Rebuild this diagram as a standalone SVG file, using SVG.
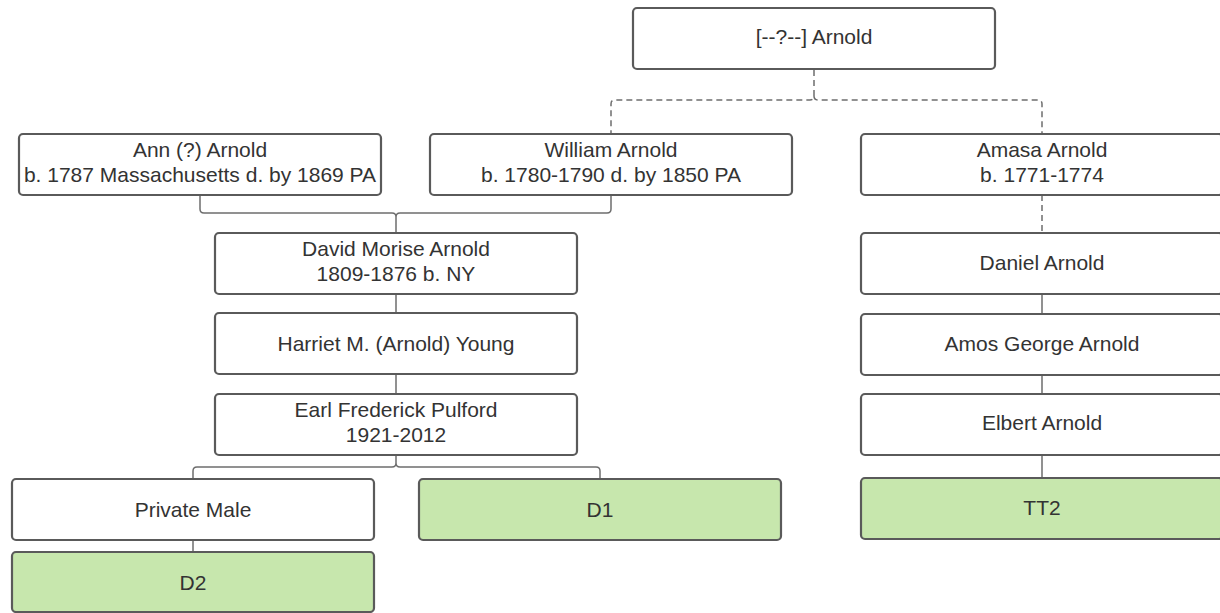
<svg xmlns="http://www.w3.org/2000/svg" width="1220" height="613" viewBox="0 0 1220 613">
<style>
.box{fill:#ffffff;stroke:#5a5a5a;stroke-width:2.2}
.green{fill:#c7e7ad}
.t{font-family:"Liberation Sans",Arial,sans-serif;font-size:21px;fill:#333333;text-anchor:middle}
.c{fill:none;stroke:#6e6e6e;stroke-width:1.5}
.d{stroke-dasharray:6,4}
</style>
<rect width="1220" height="613" fill="#ffffff"/>
<g id="connectors">
<path class="c d" d="M814,70 V96 Q814,100 810,100 H615 Q611,100 611,104 V134 M814,96 Q814,100 818,100 H1038 Q1042,100 1042,104 V134"/>
<path class="c d" d="M1042,195 V233"/>
<path class="c" d="M200,195 V209 Q200,213 204,213 H392 Q396,213 396,217 V233 M611,195 V209 Q611,213 607,213 H400 Q396,213 396,217"/>
<path class="c" d="M396,294 V313 M396,374 V394"/>
<path class="c" d="M396,455 V463 Q396,467 392,467 H197 Q193,467 193,471 V479 M396,463 Q396,467 400,467 H596 Q600,467 600,471 V479"/>
<path class="c" d="M193,540 V552"/>
<path class="c" d="M1042,294 V314 M1042,375 V394 M1042,455 V478"/>
</g>
<g id="n-top"><rect class="box" x="633" y="8" width="362" height="61" rx="4"/><text class="t" x="814" y="44">[--?--] Arnold</text></g>
<g id="n-ann"><rect class="box" x="19" y="134" width="362" height="61" rx="4"/><text class="t" x="200" y="157">Ann (?) Arnold</text><text class="t" x="200" y="182">b. 1787 Massachusetts d. by 1869 PA</text></g>
<g id="n-william"><rect class="box" x="430" y="134" width="362" height="61" rx="4"/><text class="t" x="611" y="157">William Arnold</text><text class="t" x="611" y="182">b. 1780-1790 d. by 1850 PA</text></g>
<g id="n-amasa"><rect class="box" x="861" y="134" width="362" height="61" rx="4"/><text class="t" x="1042" y="157">Amasa Arnold</text><text class="t" x="1042" y="182">b. 1771-1774</text></g>
<g id="n-david"><rect class="box" x="215" y="233" width="362" height="61" rx="4"/><text class="t" x="396" y="256">David Morise Arnold</text><text class="t" x="396" y="281">1809-1876 b. NY</text></g>
<g id="n-harriet"><rect class="box" x="215" y="313" width="362" height="61" rx="4"/><text class="t" x="396" y="351">Harriet M. (Arnold) Young</text></g>
<g id="n-earl"><rect class="box" x="215" y="394" width="362" height="61" rx="4"/><text class="t" x="396" y="417">Earl Frederick Pulford</text><text class="t" x="396" y="442">1921-2012</text></g>
<g id="n-private"><rect class="box" x="12" y="479" width="362" height="61" rx="4"/><text class="t" x="193" y="517">Private Male</text></g>
<g id="n-d1"><rect class="box green" x="419" y="479" width="362" height="61" rx="4"/><text class="t" x="600" y="517">D1</text></g>
<g id="n-d2"><rect class="box green" x="12" y="552" width="362" height="60" rx="4"/><text class="t" x="193" y="590">D2</text></g>
<g id="n-daniel"><rect class="box" x="861" y="233" width="362" height="61" rx="4"/><text class="t" x="1042" y="270">Daniel Arnold</text></g>
<g id="n-amos"><rect class="box" x="861" y="314" width="362" height="61" rx="4"/><text class="t" x="1042" y="351">Amos George Arnold</text></g>
<g id="n-elbert"><rect class="box" x="861" y="394" width="362" height="61" rx="4"/><text class="t" x="1042" y="430">Elbert Arnold</text></g>
<g id="n-tt2"><rect class="box green" x="861" y="478" width="362" height="61" rx="4"/><text class="t" x="1042" y="515">TT2</text></g>
</svg>
